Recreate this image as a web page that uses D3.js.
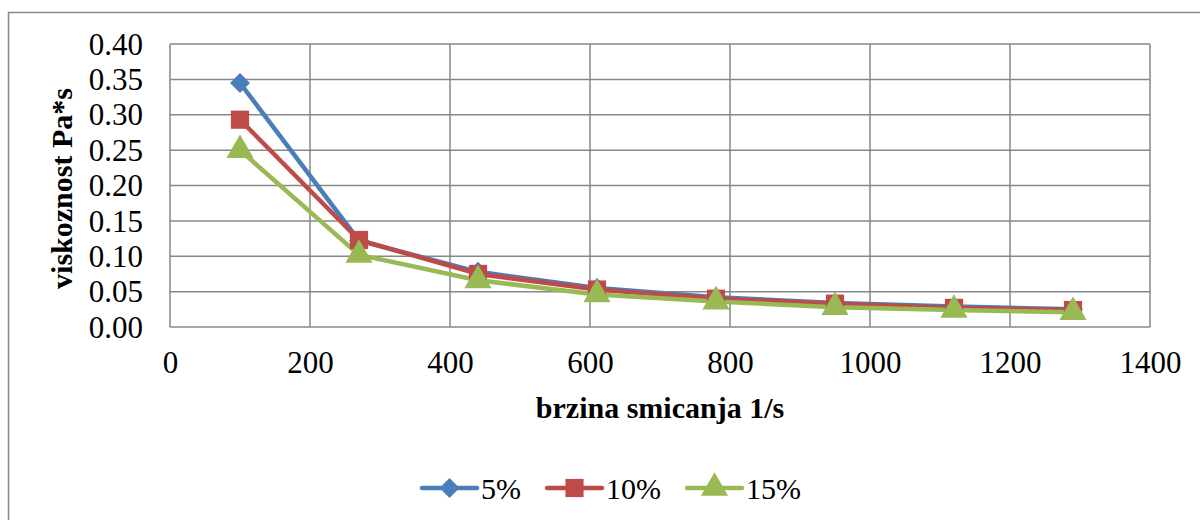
<!DOCTYPE html>
<html lang="hr">
<head>
<meta charset="UTF-8">
<title>Viskoznost</title>
<script src="https://cdn.jsdelivr.net/npm/d3@7"></script>
<style>
  body { margin: 0; background: #fff; }
  text { font-family: "Liberation Serif", "Times New Roman", serif; fill: #000; }
</style>
</head>
<body>
<div id="chart"></div>
<script>
// data
var shearRates = [100, 270, 440, 610, 780, 950, 1120, 1290];
var series5 = [0.345, 0.122, 0.078, 0.055, 0.042, 0.034, 0.029, 0.025];
var series10 = [0.293, 0.123, 0.075, 0.053, 0.040, 0.033, 0.027, 0.024];
var series15 = [0.250, 0.102, 0.066, 0.046, 0.036, 0.028, 0.024, 0.021];
var seriesNames = ["5%", "10%", "15%"];
var xTicks = [0, 200, 400, 600, 800, 1000, 1200, 1400];
var yTicks = [0, 0.05, 0.10, 0.15, 0.20, 0.25, 0.30, 0.35, 0.40];

var W = 1200, H = 520;
var margin = {top: 44, left: 170};
var width = 1150 - margin.left;
var height = 327 - margin.top;

var svg = d3.select("#chart").append("svg")
    .attr("width", W).attr("height", H);

// outer chart border
svg.append("rect")
    .attr("x", 8.5).attr("y", 12.5)
    .attr("width", 1200).attr("height", 520)
    .attr("fill", "none").attr("stroke", "#878787").attr("stroke-width", 1.5);

var g = svg.append("g").attr("transform", "translate(" + margin.left + "," + margin.top + ")");

var x = d3.scaleLinear().domain([0, 1400]).range([0, width]);
var y = d3.scaleLinear().domain([0, 0.4]).range([height, 0]);

// grid
g.append("g").selectAll("line").data(yTicks).enter().append("line")
    .attr("x1", 0).attr("x2", width)
    .attr("y1", function (d) { return y(d); }).attr("y2", function (d) { return y(d); })
    .attr("stroke", "#878787").attr("stroke-width", 1.5);
g.append("g").selectAll("line").data(xTicks).enter().append("line")
    .attr("y1", 0).attr("y2", height)
    .attr("x1", function (d) { return x(d); }).attr("x2", function (d) { return x(d); })
    .attr("stroke", "#878787").attr("stroke-width", 1.5);

// axes (labels only)
var yAxis = g.append("g")
    .call(d3.axisLeft(y).tickValues(yTicks).tickFormat(d3.format(".2f")).tickSize(0).tickPadding(27));
var xAxis = g.append("g").attr("transform", "translate(0," + height + ")")
    .call(d3.axisBottom(x).tickValues(xTicks).tickFormat(d3.format("d")).tickSize(0).tickPadding(24));
[yAxis, xAxis].forEach(function (a) {
    a.select(".domain").remove();
    a.selectAll("text").style("font-size", "31px").style("font-family", "Liberation Serif, serif");
});
yAxis.selectAll("text").attr("dy", "0.33em");
xAxis.selectAll("text").attr("dy", "0.71em");

// axis titles
svg.append("text")
    .attr("transform", "translate(72," + (margin.top + height / 2 + 3) + ") rotate(-90)")
    .attr("text-anchor", "middle")
    .style("font-size", "30px").style("font-weight", "bold")
    .text("viskoznost Pa*s");
svg.append("text")
    .attr("x", 660).attr("y", 418)
    .attr("text-anchor", "middle")
    .style("font-size", "30px").style("font-weight", "bold")
    .text("brzina smicanja 1/s");

var colors = ["#4A7EBB", "#BE4B48", "#98B954"];
var shapes = [d3.symbolSquare, d3.symbolSquare, d3.symbolTriangle];
var sizes = [200, 330, 320];
var rotations = [45, 0, 0];
var allSeries = [series5, series10, series15];

var line = d3.line()
    .x(function (d, i) { return x(shearRates[i]); })
    .y(function (d) { return y(d); });

allSeries.forEach(function (vals, s) {
    g.append("path").datum(vals)
        .attr("d", line)
        .attr("fill", "none").attr("stroke", colors[s])
        .attr("stroke-width", 4.5).attr("stroke-linejoin", "round");
});
allSeries.forEach(function (vals, s) {
    g.append("g").selectAll("path").data(vals).enter().append("path")
        .attr("d", d3.symbol().type(shapes[s]).size(sizes[s]))
        .attr("transform", function (d, i) {
            return "translate(" + x(shearRates[i]) + "," + y(d) + ") rotate(" + rotations[s] + ")";
        })
        .attr("fill", colors[s]);
});

// legend
var legendX = [422, 547, 687];
seriesNames.forEach(function (name, s) {
    var lg = svg.append("g").attr("transform", "translate(" + legendX[s] + ",488)");
    lg.append("line").attr("x1", 0).attr("x2", 55)
        .attr("stroke", colors[s]).attr("stroke-width", 4.5).attr("stroke-linecap", "round");
    lg.append("path")
        .attr("d", d3.symbol().type(shapes[s]).size(sizes[s]))
        .attr("transform", "translate(27.5,0) rotate(" + rotations[s] + ")")
        .attr("fill", colors[s]);
    lg.append("text").attr("x", 59).attr("dy", "0.35em")
        .style("font-size", "30px").text(name);
});
</script>
</body>
</html>
